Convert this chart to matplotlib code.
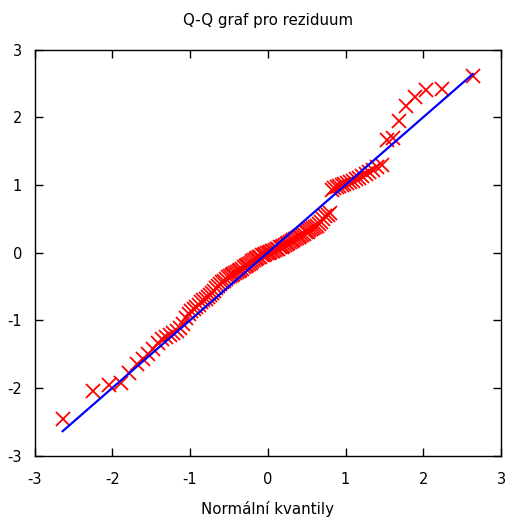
import matplotlib
matplotlib.use("Agg")
import matplotlib.pyplot as plt
from statistics import NormalDist

title = "Q-Q graf pro reziduum"
xlabel = "Normální kvantily"
ticks = [-3, -2, -1, 0, 1, 2, 3]

# sorted residuals (n = 120)
residuals = [
    -2.46, -2.04, -1.96, -1.92, -1.78, -1.64, -1.57, -1.50, -1.42, -1.33,
    -1.27, -1.24, -1.22, -1.19, -1.16, -1.12, -1.05, -0.97, -0.91, -0.87,
    -0.84, -0.81, -0.77, -0.73, -0.70, -0.68, -0.65, -0.62, -0.59, -0.56,
    -0.53, -0.50, -0.47, -0.44, -0.42, -0.39, -0.36, -0.34, -0.33, -0.31,
    -0.30, -0.28, -0.27, -0.25, -0.24, -0.22, -0.20, -0.18, -0.17, -0.15,
    -0.13, -0.11, -0.10, -0.08, -0.07, -0.06, -0.04, -0.03, -0.02, -0.01,
    0.00, 0.01, 0.02, 0.03, 0.04, 0.05, 0.06, 0.08, 0.09, 0.10,
    0.11, 0.13, 0.14, 0.16, 0.17, 0.19, 0.20, 0.22, 0.23, 0.25,
    0.26, 0.28, 0.30, 0.31, 0.33, 0.35, 0.37, 0.38, 0.40, 0.42,
    0.45, 0.50, 0.54, 0.56, 0.58, 0.93, 0.95, 0.97, 0.98, 1.00,
    1.01, 1.03, 1.05, 1.06, 1.08, 1.10, 1.13, 1.16, 1.19, 1.22,
    1.26, 1.29, 1.66, 1.70, 1.95, 2.17, 2.30, 2.40, 2.41, 2.61,
]

n = len(residuals)
nd = NormalDist()
quantiles = [nd.inv_cdf((i + 0.5) / n) for i in range(n)]

plt.rcParams['font.family'] = ['DejaVu Sans']
fig = plt.figure(figsize=(5.09, 5.18), dpi=100)
ax = fig.add_axes([0.0678, 0.1203, 0.9165, 0.7841])

ax.plot(quantiles, residuals, linestyle='none', marker='x', color='#ff0000',
        markersize=9.5, markeredgewidth=1.3, zorder=2)
ax.plot([quantiles[0], quantiles[-1]], [quantiles[0], quantiles[-1]],
        color='#0000ff', linewidth=1.6, zorder=3)

ax.set_xlim(-3, 3)
ax.set_ylim(-3, 3)
ax.set_xticks(ticks)
ax.set_yticks(ticks)
ax.set_xticklabels([str(t) for t in ticks])
ax.set_yticklabels([str(t) for t in ticks])
ax.tick_params(direction='in', length=6, width=1, top=True, right=True,
               labelsize=10.5, colors='black')
ax.tick_params(axis='x', pad=12)
ax.tick_params(axis='y', pad=9)
for s in ax.spines.values():
    s.set_linewidth(1)
    s.set_color('black')

ax.set_title(title, fontsize=10.8, pad=18)
ax.set_xlabel(xlabel, fontsize=10.8, labelpad=10)

fig.savefig("out.png", dpi=100)
